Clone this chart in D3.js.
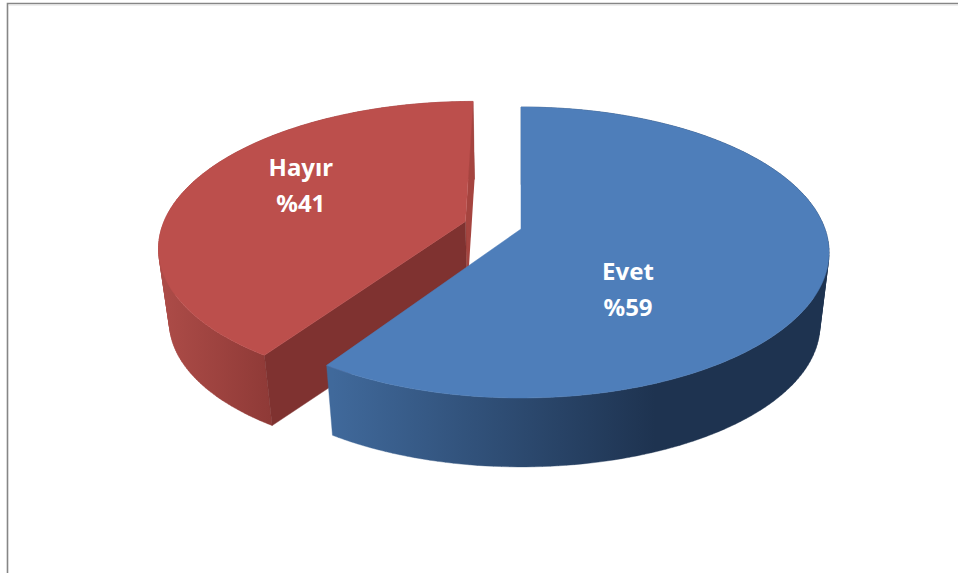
<!DOCTYPE html>
<html><head><meta charset="utf-8">
<script src="https://cdn.jsdelivr.net/npm/d3@7"></script>
<style>html,body{margin:0;padding:0;background:#fff}svg{display:block}</style>
</head><body><svg id="c" width="958" height="573"></svg>
<script>
const categories = ["Evet", "Hayır"];
const values = [59, 41];
const labels = ["%59", "%41"];

const svg = d3.select("#c");
const W = 958, H = 573;
svg.append("path").attr("d", `M7.5 ${H}V3.5H${W}`).attr("fill","none").attr("stroke","#868686").attr("stroke-width",1.6);
svg.append("path").attr("d", `M9 5H${W}`).attr("fill","none").attr("stroke","#dedede").attr("stroke-width",1);

// perspective plane -> screen
const x0 = 521, y0 = 229, Rx = 304, Ry = 141.7, k = 0.1615;
const shrink = 0.97, drop = 74;
const lens = 1.3*Math.PI/180; // slight angular distortion of the 3D renderer
const warp = a => a + lens*Math.pow(Math.sin(a/2),2);
const top3 = (U, V) => { const s = 1/(1-k*V); return [x0 + Rx*U*s, y0 + Ry*V*s]; };
const bot3 = (U, V) => { const p = top3(U,V); return [x0 + (p[0]-x0)*shrink, y0 + (p[1]-y0)*shrink + drop]; };

const pie = d3.pie().sort(null)(values);
const explode = [0, 0.192];
const line = d3.line();

const defs = svg.append("defs");
function grad(id, x1, x2, stops){
  const g = defs.append("linearGradient").attr("id",id).attr("gradientUnits","userSpaceOnUse")
    .attr("x1",x1).attr("x2",x2).attr("y1",0).attr("y2",0);
  stops.forEach(s=>g.append("stop").attr("offset",s[0]).attr("stop-color",s[1]));
}
grad("wall0", 332, 655, [[0,"#40699b"],[1,"#1e3350"]]);
grad("wall1", 160, 270, [[0,"#ad4c48"],[1,"#8f3a37"]]);

const topColor = ["#4e7eba","#bc4f4c"], cutColor = "#7f3230", sliver = "#a5443f";
const slices = pie.map((p,i)=>{
  const mid = (p.startAngle+p.endAngle)/2;
  const cu = explode[i]*Math.sin(mid), cv = -explode[i]*Math.cos(mid);
  const pt = a=>[cu + Math.sin(warp(a)), cv - Math.cos(warp(a))];
  const angles = d3.range(0,161).map(t=>p.startAngle+(p.endAngle-p.startAngle)*t/160);
  return {i,p,cu,cv,pt,angles};
});

// red first (behind), then blue
[slices[1],slices[0]].forEach(s=>{
  const g = svg.append("g");
  const T = s.angles.map(a=>top3(...s.pt(a)));
  const B = s.angles.map(a=>bot3(...s.pt(a)));
  const aT = top3(s.cu,s.cv), aB = bot3(s.cu,s.cv);
  // outer wall: union of thin quads, all wound the same way, so the silhouette joins both rims
  const quads = d3.range(T.length-1).map(j=>{
    const q = [T[j],T[j+1],B[j+1],B[j]];
    if(d3.polygonArea(q) < 0) q.reverse();
    return line(q)+"Z";
  }).join("");
  g.append("path").attr("d", quads).attr("fill",`url(#wall${s.i})`).attr("stroke",`url(#wall${s.i})`).attr("stroke-width",0.4);
  if(s.i===1){
    // thin cut face at the pie end, then the front cut face at the pie start
    g.append("path").attr("d", line([aT,T[T.length-1],B[B.length-1],aB])+"Z").attr("fill",sliver);
    g.append("path").attr("d", line([aT,T[0],B[0],aB])+"Z").attr("fill",cutColor).attr("stroke",cutColor).attr("stroke-width",0.5);
  }
  g.append("path").attr("d", line([aT].concat(T))+"Z").attr("fill",topColor[s.i]).attr("stroke",topColor[s.i]).attr("stroke-width",0.5);
});

// labels, placed by polar position on the disc plane
const labelPolar = [[2.447,0.515],[5.15,0.638]];
slices.forEach(s=>{
  const [a,r] = labelPolar[s.i];
  const [x,y] = top3(s.cu + r*Math.sin(a), s.cv - r*Math.cos(a));
  const t = svg.append("text").attr("text-anchor","middle")
    .attr("font-family","'Noto Sans'").attr("font-weight",700).attr("font-size",24).attr("fill","#fff");
  t.append("tspan").attr("x",x).attr("y",y-9).text(categories[s.i]);
  t.append("tspan").attr("x",x).attr("y",y+27).text(labels[s.i]);
});
</script></body></html>
